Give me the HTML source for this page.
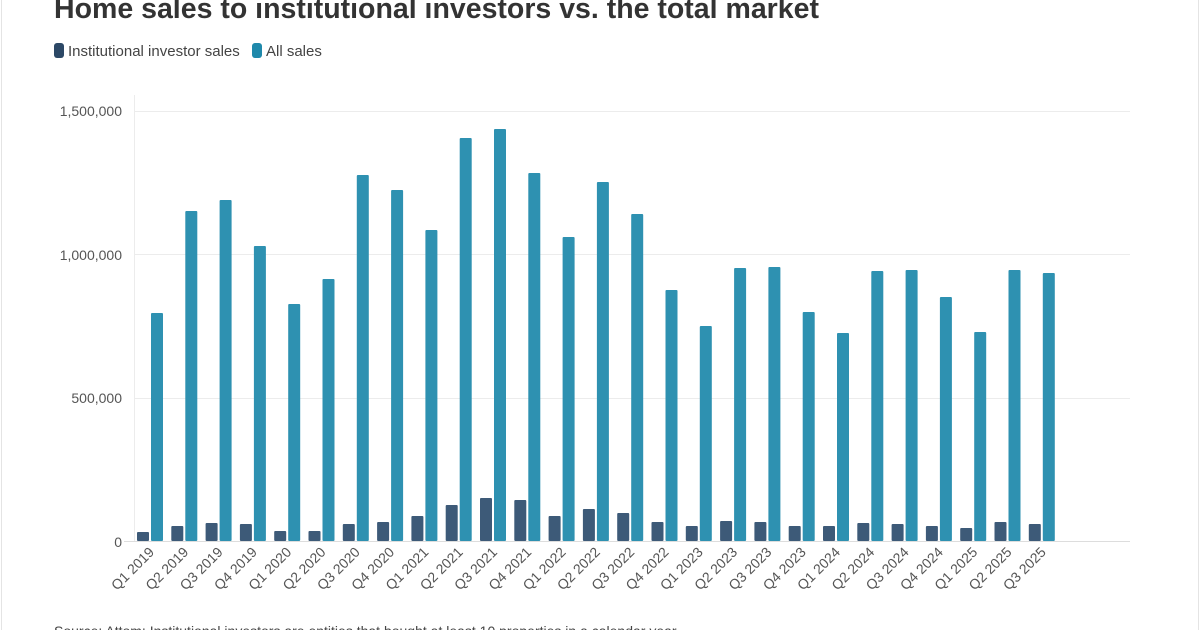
<!DOCTYPE html>
<html><head><meta charset="utf-8"><style>
body{margin:0;width:1200px;height:630px;overflow:hidden;background:#fff;font-family:"Liberation Sans",sans-serif;}
</style></head><body>
<svg width="1200" height="630" xmlns="http://www.w3.org/2000/svg" font-family="Liberation Sans, sans-serif">
<rect x="0" y="0" width="1200" height="630" fill="#fff"/>
<line x1="1.5" y1="0" x2="1.5" y2="630" stroke="#e4e4e4"/>
<line x1="1198.5" y1="0" x2="1198.5" y2="630" stroke="#e4e4e4"/>
<text x="54" y="18" font-size="28.5" font-weight="bold" fill="#333">Home sales to institutional investors vs. the total market</text>
<rect x="54" y="43" width="10" height="15" rx="3" fill="#2c4866"/>
<text x="68" y="56" font-size="15" fill="#444">Institutional investor sales</text>
<rect x="252" y="43" width="10" height="15" rx="3" fill="#1f89ab"/>
<text x="266" y="56" font-size="15" fill="#444">All sales</text>
<g stroke="#ececec" stroke-width="1">
<line x1="134" y1="111.5" x2="1130" y2="111.5"/>
<line x1="134" y1="254.5" x2="1130" y2="254.5"/>
<line x1="134" y1="398.5" x2="1130" y2="398.5"/>
<line x1="134.5" y1="95" x2="134.5" y2="541"/>
</g>
<line x1="124" y1="541.5" x2="1130" y2="541.5" stroke="#ddd"/>
<g font-size="14" fill="#555" text-anchor="end">
<text x="122" y="116">1,500,000</text>
<text x="122" y="260">1,000,000</text>
<text x="122" y="403">500,000</text>
<text x="122" y="547">0</text>
</g>
<g id="bars"></g>
<g id="labels" font-size="14" fill="#555" text-anchor="end"></g>
<text x="54" y="636" font-size="14" fill="#444">Source: Attom; Institutional investors are entities that bought at least 10 properties in a calendar year</text>
<script>
var all=[313,211,200,246,304,279,175,190,230,138,129,173,237,182,214,290,326,268,267,312,333,271,270,297,332,270,273];
var inst=[532,526,523,524,531,531,524,522,516,505,498,500,516,509,513,522,526,521,522,526,526,523,524,526,528,522,524];
var ns="http://www.w3.org/2000/svg",b=document.getElementById("bars"),l=document.getElementById("labels");
function r(x,y,f){var e=document.createElementNS(ns,"rect");e.setAttribute("x",x);e.setAttribute("y",y);e.setAttribute("width",12);e.setAttribute("height",541-y);e.setAttribute("fill",f);e.setAttribute("rx",1);b.appendChild(e);}
for(var i=0;i<27;i++){var c=157+i*34.3;
r(c-6,all[i],"#2e91b1");r(c-20,inst[i],"#3d5a78");
var q="Q"+(i%4+1)+" "+(2019+Math.floor(i/4));
var t=document.createElementNS(ns,"text");t.setAttribute("transform","translate("+(c-2)+",553) rotate(-45)");t.textContent=q;l.appendChild(t);}
</script>
</svg>
</body></html>
